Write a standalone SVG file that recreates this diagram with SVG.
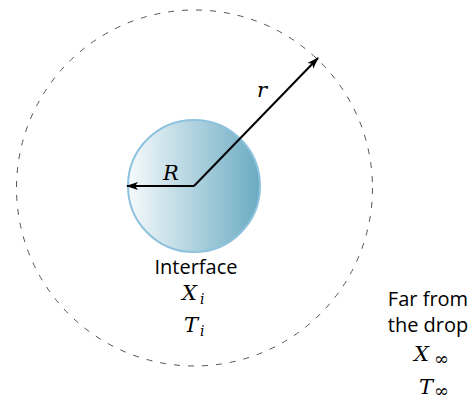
<svg xmlns="http://www.w3.org/2000/svg" width="476" height="403" viewBox="0 0 476 403">
<style>
.lbl{font-family:"Open Sans","Liberation Sans",sans-serif;font-size:20px;fill:#000;text-anchor:middle}
.math{font-family:"DejaVu Serif","Liberation Serif",serif;font-style:italic;font-size:21px;fill:#000}
.sub{font-family:"DejaVu Serif","Liberation Serif",serif;font-style:italic;font-size:14px;fill:#000}
.inf{font-family:"DejaVu Serif","Liberation Serif",serif;font-size:18px;fill:#000}
</style>
<defs>
<linearGradient id="g" x1="0" y1="0" x2="1" y2="0">
<stop offset="0" stop-color="#f6fafc"/>
<stop offset="1" stop-color="#6aabc2"/>
</linearGradient>
<marker id="ah2" viewBox="0 0 12 10" refX="11" refY="5" markerWidth="12" markerHeight="10" orient="auto" markerUnits="userSpaceOnUse">
<path d="M0,1 L12,5 L0,9 L3,5 Z" fill="#000"/>
</marker>
</defs>
<g id="far-boundary">
<circle cx="194.5" cy="188" r="178" fill="none" stroke="#555" stroke-width="1" stroke-dasharray="6 8"/>
</g>
<g id="drop">
<circle cx="194" cy="186" r="66" fill="url(#g)" stroke="#8ec2de" stroke-width="2"/>
</g>
<g id="connectors">
<line x1="194" y1="186" x2="127" y2="186" stroke="#000" stroke-width="2" marker-end="url(#ah2)"/>
<line x1="194" y1="186" x2="318" y2="58" stroke="#000" stroke-width="2" marker-end="url(#ah2)"/>
<text class="math" x="163" y="180">R</text>
<text class="math" x="257" y="97">r</text>
</g>
<g id="interface">
<text class="lbl" x="196" y="274">Interface</text>
<text class="math" x="182" y="300">X</text><text class="sub" x="200" y="304">i</text>
<text class="math" x="184" y="332">T</text><text class="sub" x="200" y="336">i</text>
</g>
<g id="far">
<text class="lbl" x="428" y="306">Far from</text>
<text class="lbl" x="428" y="332">the drop</text>
<text class="math" x="414" y="361">X</text><text class="inf" x="434" y="365">∞</text>
<text class="math" x="419" y="394">T</text><text class="inf" x="434" y="397">∞</text>
</g>
</svg>
